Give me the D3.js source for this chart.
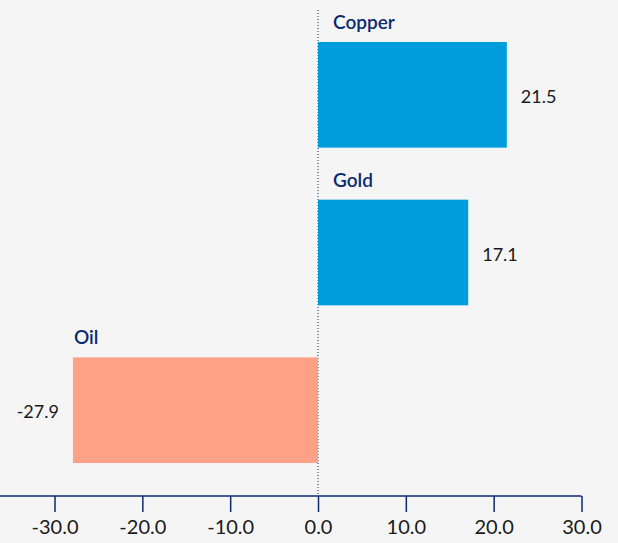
<!DOCTYPE html>
<html>
<head>
<meta charset="utf-8">
<script src="https://cdn.jsdelivr.net/npm/d3@7"></script>
<style>
  body { margin: 0; background: #f5f5f5; }
  svg { display: block; font-family: Lato, "Open Sans", sans-serif; }
</style>
</head>
<body>
<div id="chart"></div>
<script>
let width = 618;
let height = 543;

let categories = ['Copper', 'Gold', 'Oil'];
let values = [21.5, 17.1, -27.9];
let tickValues = [-30, -20, -10, 0, 10, 20, 30];

let svg = d3.select('#chart')
  .append('svg')
  .attr('width', width)
  .attr('height', height);

svg.append('rect')
  .attr('width', width)
  .attr('height', height)
  .attr('fill', '#f5f5f5');

let x = d3.scaleLinear()
  .domain([-30, 30])
  .range([54.5, 581.5]);

let y = d3.scaleBand()
  .domain(categories)
  .range([42, 463])
  .paddingInner(0.33)
  .paddingOuter(0);

let axisY = 496;
let fmt = function(v) { return v.toFixed(1); };

// zero reference line
svg.append('line')
  .attr('x1', x(0))
  .attr('x2', x(0))
  .attr('y1', 10)
  .attr('y2', axisY)
  .attr('stroke', '#0b2a6f')
  .attr('stroke-width', 1)
  .attr('stroke-dasharray', '1,2');

let data = categories.map(function(c, i) {
  return { name: c, value: values[i] };
});

svg.selectAll('.bar')
  .data(data)
  .enter()
  .append('rect')
  .attr('class', 'bar')
  .attr('x', function(d) { return x(Math.min(0, d.value)); })
  .attr('y', function(d) { return y(d.name); })
  .attr('width', function(d) { return Math.abs(x(d.value) - x(0)); })
  .attr('height', y.bandwidth())
  .attr('fill', function(d) { return d.value >= 0 ? '#009ddd' : '#ffa187'; });

// category labels above bars
svg.selectAll('.cat')
  .data(data)
  .enter()
  .append('text')
  .attr('class', 'cat')
  .attr('x', function(d) { return d.value >= 0 ? x(0) + 15 : x(d.value) + 1; })
  .attr('y', function(d) { return y(d.name) - 13; })
  .text(function(d) { return d.name; })
  .style('font-size', '19px')
  .style('font-weight', '600')
  .style('fill', '#0b2a6f');

// value labels
svg.selectAll('.val')
  .data(data)
  .enter()
  .append('text')
  .attr('class', 'val')
  .attr('x', function(d) { return d.value >= 0 ? x(d.value) + 14 : x(d.value) - 14; })
  .attr('y', function(d) { return y(d.name) + y.bandwidth() / 2 + 8; })
  .attr('text-anchor', function(d) { return d.value >= 0 ? 'start' : 'end'; })
  .text(function(d) { return fmt(d.value); })
  .style('font-size', '18px')
  .style('font-weight', '400')
  .style('fill', '#1a1a1a');

// x axis
let axis = svg.append('g')
  .attr('transform', 'translate(0,' + axisY + ')')
  .call(d3.axisBottom(x)
    .tickValues(tickValues)
    .tickSize(16)
    .tickPadding(8)
    .tickFormat(fmt));

axis.select('.domain').remove();
axis.append('line')
  .attr('x1', 0)
  .attr('x2', x(30))
  .attr('stroke', '#0b2a6f')
  .attr('stroke-width', 1.5);
axis.selectAll('.tick line')
  .attr('stroke', '#0b2a6f')
  .attr('stroke-width', 1.5);
axis.selectAll('.tick text')
  .style('font-family', 'Lato, "Open Sans", sans-serif')
  .style('font-size', '20px')
  .style('font-weight', '400')
  .style('fill', '#1a1a1a');
</script>
</body>
</html>
